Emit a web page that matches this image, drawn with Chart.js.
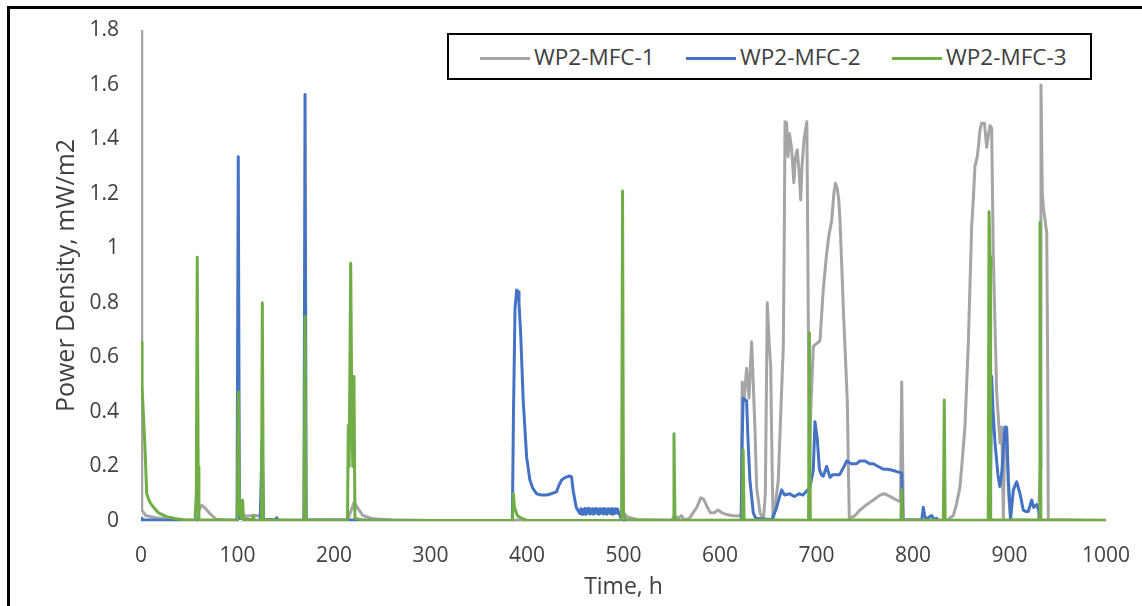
<!DOCTYPE html>
<html>
<head>
<meta charset="utf-8">
<script src="https://cdn.jsdelivr.net/npm/chart.js@4.4.0/dist/chart.umd.min.js"></script>
<style>
  body { margin: 0; background: #fff; }
  #wrap { position: relative; width: 1142px; height: 606px; overflow: hidden; font-family: "Open Sans", sans-serif; }
  #frame { position: absolute; left: 7px; top: 6px; width: 1200px; height: 700px; border: 3px solid #000; box-sizing: border-box; }
  #legend { position: absolute; left: 447px; top: 33px; width: 645px; height: 47px; border: 2px solid #000; box-sizing: border-box; background: #fff; }
  .item { position: absolute; top: 0; height: 43px; line-height: 43px; font-size: 22.5px; color: #404040; white-space: nowrap; }
  .item span { display: inline-block; width: 50px; height: 3px; vertical-align: middle; margin-right: 4px; }
</style>
</head>
<body>
<div id="wrap">
  <canvas id="chart" width="1142" height="606"></canvas>
  <div id="frame"></div>
  <div id="legend">
    <div class="item" style="left:31px"><span style="background:#A5A5A5"></span>WP2-MFC-1</div>
    <div class="item" style="left:237px"><span style="background:#4472C4"></span>WP2-MFC-2</div>
    <div class="item" style="left:443px"><span style="background:#70AD47"></span>WP2-MFC-3</div>
  </div>
</div>
<script>
// tick labels
var xTicks = [0, 100, 200, 300, 400, 500, 600, 700, 800, 900, 1000];
var yTicks = [0, 0.2, 0.4, 0.6, 0.8, 1, 1.2, 1.4, 1.6, 1.8];

// WP2-MFC-1 (grey)
var time1 = [0, 0.8, 5, 15, 30, 50, 58, 60, 63, 67, 72, 78, 90, 99, 101, 104, 110, 118, 124, 128, 140, 168, 214,
  221, 224, 230, 240, 260, 290, 300, 385, 390, 400, 498, 500, 504, 515, 550, 553, 557, 560, 563, 568, 572, 576, 580,
  583, 587, 590, 594, 598, 602, 606, 612, 618, 622, 623, 625, 627.6, 630, 632.8, 634.5, 636.3, 638, 641.5, 645, 647,
  649, 651, 652.5, 654, 655, 657, 660.4, 663, 665.6, 666.5, 667.4, 669, 670.5, 672, 674, 675.5, 676.5, 678, 680, 682,
  683.6, 685, 687, 690, 691, 692.5, 694, 696.7, 700, 703.6, 707, 710.5, 713, 715.7, 718, 719.5, 721.5, 723, 724.4,
  726, 728, 730, 731.9, 733, 734, 740, 745, 752, 758.9, 765.8, 770, 776, 783, 787, 788.3, 790, 830, 835, 841.8, 845,
  848.7, 851, 853.9, 857.3, 860.8, 862.5, 864.2, 866.6, 868, 869.4, 871, 874, 876.4, 877.5, 879.8, 881.5, 883.2,
  886.7, 890.2, 892, 893.6, 895, 897, 899, 901, 930, 932, 932.6, 934, 935, 937, 938.6, 939.5, 940.2, 1000];
var power1 = [1.8, 0.04, 0.02, 0.012, 0.006, 0.003, 0.003, 0.04, 0.058, 0.045, 0.025, 0.006, 0.004, 0.004, 0.03, 0.02,
  0.018, 0.02, 0.018, 0.006, 0.003, 0.003, 0.003, 0.07, 0.05, 0.02, 0.008, 0.004, 0.003, 0.001, 0.001, 0.005, 0.002,
  0.002, 0.03, 0.015, 0.005, 0.004, 0.02, 0.01, 0.02, 0.005, 0.008, 0.03, 0.05, 0.085, 0.08, 0.05, 0.03, 0.03, 0.04,
  0.03, 0.025, 0.02, 0.018, 0.02, 0.51, 0.45, 0.56, 0.45, 0.657, 0.5, 0.33, 0.12, 0.03, 0.005, 0.1, 0.8, 0.65, 0.57,
  0.2, 0.005, 0.05, 0.15, 0.4, 0.64, 1.0, 1.464, 1.46, 1.336, 1.42, 1.37, 1.3, 1.24, 1.33, 1.36, 1.28, 1.177, 1.3,
  1.397, 1.464, 1.0, 0.2, 0.4, 0.64, 0.65, 0.66, 0.85, 0.98, 1.05, 1.1, 1.2, 1.238, 1.22, 1.18, 1.1, 0.95, 0.76, 0.6,
  0.44, 0.2, 0.01, 0.02, 0.04, 0.06, 0.077, 0.095, 0.1, 0.09, 0.077, 0.07, 0.51, 0.005, 0.003, 0.002, 0.02, 0.06,
  0.126, 0.22, 0.35, 0.65, 1.08, 1.18, 1.3, 1.336, 1.38, 1.433, 1.458, 1.458, 1.37, 1.4, 1.45, 1.44, 0.98, 0.47,
  0.285, 0.345, 0.01, 0.3, 0.345, 0.1, 0.005, 0.003, 0.2, 1.598, 1.2, 1.152, 1.1, 1.055, 0.6, 0.005, 0];

// WP2-MFC-2 (blue)
var time2 = [0, 1, 30, 99.5, 100.8, 102, 123.5, 125.5, 127, 139, 140.6, 142, 168.8, 170, 171.2, 384.8, 386, 387.6,
  389.3, 391, 391.7, 393.4, 396.1, 399.6, 403, 406, 409.9, 415, 420.3, 425, 430.6, 433, 435.8, 440, 444, 446.2, 447.9,
  451, 454.8, 456, 457, 458, 459, 460, 461, 462, 463, 464, 465, 466, 467, 468, 469, 470, 471, 472, 473, 474, 475, 476,
  477, 478, 479, 480, 481, 482, 483, 484, 485, 486, 487, 488, 489, 490, 491, 492, 493, 494, 495, 496.3, 497.5,
  622, 623, 624, 627.6, 629, 631, 634.5, 637, 653.8, 658.7, 661, 663.9, 667, 672, 677, 682, 686, 689.8, 693, 696.7,
  698.4, 700.8, 703, 705, 707, 710.5, 714, 717, 721, 724, 727.8, 731.3, 736, 741.6, 745, 750.3, 755, 758.9, 764,
  769.2, 774, 779.6, 784, 788.3, 789.5, 809, 810.7, 812, 814, 817, 819.4, 822, 824.5, 826, 879, 880.5, 881.5, 883,
  885, 888, 890, 892, 895.3, 897, 898.8, 901.2, 904, 907.4, 910.9, 914.3, 917, 919.5, 923, 925, 928.2, 931, 932, 1000];
var power2 = [0.01, 0.005, 0.002, 0, 1.335, 0.01, 0, 0.29, 0.005, 0.005, 0.012, 0.003, 0, 1.564, 0.005, 0, 0.4, 0.78,
  0.847, 0.84, 0.8, 0.69, 0.44, 0.235, 0.15, 0.12, 0.1, 0.095, 0.095, 0.1, 0.107, 0.13, 0.15, 0.16, 0.165, 0.162, 0.11,
  0.05, 0.028, 0.045, 0.025, 0.042, 0.028, 0.046, 0.024, 0.044, 0.03, 0.047, 0.026, 0.043, 0.028, 0.045, 0.025, 0.044,
  0.03, 0.046, 0.027, 0.043, 0.025, 0.045, 0.03, 0.044, 0.026, 0.046, 0.028, 0.042, 0.025, 0.045, 0.03, 0.044, 0.027,
  0.046, 0.025, 0.043, 0.028, 0.045, 0.03, 0.044, 0.026, 0.03, 0.002,
  0, 0.3, 0.45, 0.44, 0.3, 0.15, 0.03, 0.01, 0.005, 0.05, 0.08, 0.114, 0.095, 0.1, 0.09, 0.1, 0.095, 0.11, 0.12, 0.187,
  0.364, 0.3, 0.19, 0.17, 0.164, 0.2, 0.16, 0.17, 0.17, 0.17, 0.195, 0.22, 0.21, 0.21, 0.22, 0.22, 0.21, 0.21, 0.2,
  0.19, 0.19, 0.185, 0.18, 0.176, 0.005, 0.003, 0.05, 0.02, 0.005, 0.015, 0.02, 0.005, 0.01, 0.001, 0, 0.2, 0.53, 0.4,
  0.285, 0.17, 0.126, 0.176, 0.345, 0.34, 0.15, 0.01, 0.114, 0.144, 0.1, 0.04, 0.035, 0.035, 0.077, 0.05, 0.06, 0.03,
  0.003, 0];

// WP2-MFC-3 (green)
var time3 = [0, 1, 4.1, 5.9, 9, 12.6, 18, 26.6, 35, 43.8, 56, 57.3, 58.3, 59.2, 60, 99.8, 100.8, 102, 104, 105.3,
  106.3, 115.5, 116.4, 117.3, 124.8, 125.7, 126.8, 169, 170, 171, 214, 214.8, 215.7, 217.3, 218.5, 219.5, 220.7, 221.7,
  230, 385, 385.8, 387, 390, 395, 400, 498, 499, 500, 503, 551.5, 552.3, 553.3, 555, 623, 624, 625, 691.8, 692.6,
  693.6, 787.4, 788.3, 789.2, 831.5, 832.4, 833.3, 878, 878.8, 879.8, 880.5, 930.8, 931.6, 932.5, 1000];
var power3 = [0.657, 0.5, 0.27, 0.1, 0.07, 0.052, 0.03, 0.016, 0.009, 0.005, 0.003, 0.1, 0.967, 0.2, 0.005, 0.003,
  0.474, 0.05, 0.01, 0.077, 0.005, 0.005, 0.02, 0.003, 0.003, 0.8, 0.005, 0.003, 0.75, 0.005, 0.003, 0.35, 0.2, 0.945,
  0.4, 0.2, 0.53, 0.01, 0.003, 0.002, 0.1, 0.05, 0.02, 0.008, 0.003, 0.002, 1.21, 0.02, 0.005, 0.002, 0.32, 0.01,
  0.003, 0.003, 0.26, 0.005, 0.003, 0.69, 0.005, 0.003, 0.114, 0.003, 0.003, 0.444, 0.003, 0.003, 1.134, 0.97, 0.005,
  0.003, 1.095, 0.005, 0.003];

function pts(t, p) {
  return t.map(function (x, i) { return { x: x, y: p[i] }; });
}

var textColor = '#404040';
var font = { family: 'Open Sans', size: 21 };

new Chart(document.getElementById('chart'), {
  type: 'line',
  data: {
    datasets: [
      { label: 'WP2-MFC-1', data: pts(time1, power1), borderColor: '#A5A5A5', order: 3 },
      { label: 'WP2-MFC-2', data: pts(time2, power2), borderColor: '#4472C4', order: 2 },
      { label: 'WP2-MFC-3', data: pts(time3, power3), borderColor: '#70AD47', order: 1 }
    ]
  },
  options: {
    responsive: false,
    animation: false,
    parsing: false,
    elements: {
      point: { radius: 0 },
      line: { borderWidth: 3, tension: 0, borderJoinStyle: 'round', borderCapStyle: 'round' }
    },
    layout: { padding: { left: 0, top: 30, right: 36, bottom: 0 } },
    plugins: { legend: { display: false }, tooltip: { enabled: false } },
    scales: {
      x: {
        type: 'linear', min: 0, max: 1000,
        afterBuildTicks: function (s) { s.ticks = xTicks.map(function (v) { return { value: v }; }); },
        afterFit: function (s) { s.height = 85; s.paddingLeft = 0; s.paddingRight = 0; },
        grid: { display: false, drawTicks: false },
        border: { display: true, color: '#D9D9D9', width: 1 },
        ticks: { color: textColor, font: font, padding: 22, maxRotation: 0, callback: function (v) { return String(v); } },
        title: { display: true, text: 'Time, h', color: textColor, font: { family: 'Open Sans', size: 23 }, padding: { top: 0, bottom: 5 } }
      },
      y: {
        type: 'linear', min: 0, max: 1.8,
        afterBuildTicks: function (s) { s.ticks = yTicks.map(function (v) { return { value: v }; }); },
        afterFit: function (s) { s.width = 141; s.paddingTop = 0; s.paddingBottom = 0; },
        grid: { display: false, drawTicks: false },
        border: { display: false },
        ticks: { color: textColor, font: font, padding: 22, callback: function (v) { return String(+v.toFixed(1)); } },
        title: { display: true, text: 'Power Density, mW/m2', color: textColor, font: { family: 'Open Sans', size: 25 }, padding: { top: 52, bottom: 0 } }
      }
    }
  }
});
</script>
</body>
</html>
